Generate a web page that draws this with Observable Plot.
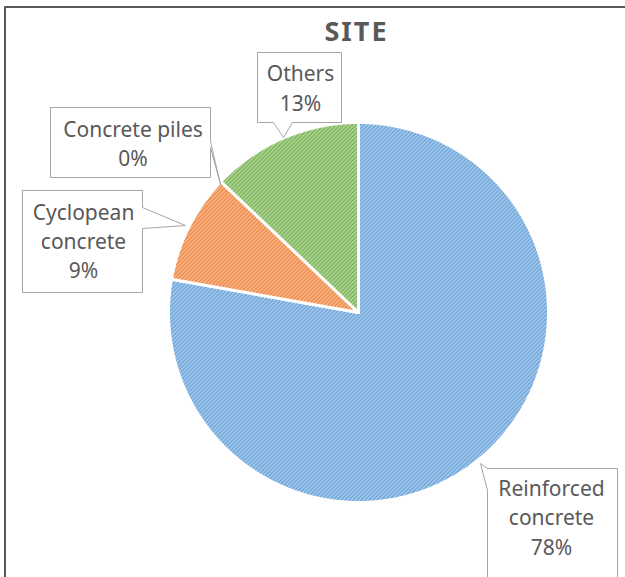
<!DOCTYPE html>
<html><head><meta charset="utf-8">
<script src="https://cdn.jsdelivr.net/npm/d3@7"></script>
<script src="https://cdn.jsdelivr.net/npm/@observablehq/plot@0.6"></script>
<style>body{margin:0;background:#fff} svg{display:block}</style>
</head><body><div id="chart"></div>
<script>
// ---- data ----
const title = "SITE";
const categories = ["Reinforced concrete", "Cyclopean concrete", "Concrete piles", "Others"];
const values = [77.8, 9.3, 0, 12.9];
const labelNames = ["Reinforced\nconcrete", "Cyclopean\nconcrete", "Concrete piles", "Others"];

// ---- styles ----
const hatchDark = ["#6ea6dc", "#f08a46", "#a5a5a5", "#7db658"];
const hatchLight = ["#e1edf8", "#fde6d6", "#ededed", "#e6f1de"];
const textColor = "#595959";
const font = "Noto Sans";

// ---- layout (pixel units) ----
const W = 625, H = 577, CX = 358, CY = 312, R = 190;
const callouts = [
  {box: [487, 468, 617, 600], text: [551, 515.5], side: "left", a: 468, b: 490, tip: [480, 463]},
  {box: [22, 190, 142, 292], text: [83, 239], side: "right", a: 207, b: 228, tip: [185, 225]},
  {box: [50, 107, 210, 177], text: [132.5, 141.5], side: "right", a: 141, b: 147, tip: [220, 184]},
  {box: [257, 52, 341, 122], text: [300, 86], side: "bottom", a: 273, b: 292, tip: [283, 137]}
];

// pie geometry
const arcs = d3.pie().sort(null).value(d => d)(values);
const slices = arcs.map((a, i) => {
  const pts = [[CX, CY]];
  const n = Math.max(2, Math.ceil((a.endAngle - a.startAngle) / (Math.PI / 360)));
  for (let k = 0; k <= n; k++) {
    const t = a.startAngle + (a.endAngle - a.startAngle) * k / n;
    pts.push([CX + R * Math.sin(t), CY - R * Math.cos(t)]);
  }
  pts.push([CX, CY]);
  return {i, pts};
});

function calloutPoly(c) {
  const [x0, y0, x1, y1] = c.box, {a, b, tip} = c;
  let p;
  if (c.side === "top") p = [[x0,y0],[a,y0],tip,[b,y0],[x1,y0],[x1,y1],[x0,y1]];
  else if (c.side === "right") p = [[x0,y0],[x1,y0],[x1,a],tip,[x1,b],[x1,y1],[x0,y1]];
  else if (c.side === "bottom") p = [[x0,y0],[x1,y0],[x1,y1],[b,y1],tip,[a,y1],[x0,y1]];
  else p = [[x0,y0],[x1,y0],[x1,y1],[x0,y1],[x0,b],tip,[x0,a]];
  p.push(p[0]);
  return p;
}

const labels = categories.map((c, i) => ({
  x: callouts[i].text[0], y: callouts[i].text[1],
  text: labelNames[i] + "\n" + Math.round(values[i]) + "%"
}));

const svg = Plot.plot({
  width: W, height: H,
  margin: 0,
  x: {domain: [0, W], range: [0, W], axis: null},
  y: {domain: [0, H], range: [0, H], axis: null},
  marks: [
    Plot.line([[4.5, H], [4.5, 6.5], [W, 6.5]], {stroke: "#595959", strokeWidth: 2}),
    ...slices.filter(s => values[s.i] > 0).map(s =>
      Plot.line(s.pts, {fill: `url(#hatch${s.i})`, stroke: "white", strokeWidth: 3, strokeLinejoin: "round"})
    ),
    ...callouts.map(c => Plot.line(calloutPoly(c), {fill: "white", stroke: "#a6a6a6", strokeWidth: 1})),
    Plot.text(labels, {x: "x", y: "y", text: "text", fill: textColor, fontSize: 21, lineHeight: 1.4,
      fontFamily: font, textAnchor: "middle", lineAnchor: "middle"}),
    Plot.text([title], {x: () => 356, y: () => 32, text: d => d, fill: textColor, fontSize: 27,
      fontWeight: "bold", fontFamily: font, textAnchor: "middle", lineAnchor: "middle", className: "title"})
  ]
});

const defs = d3.select(svg).insert("defs", ":first-child");
hatchDark.forEach((dk, i) => {
  const p = defs.append("pattern").attr("id", `hatch${i}`).attr("width", 4).attr("height", 4)
    .attr("patternUnits", "userSpaceOnUse");
  p.append("rect").attr("width", 4).attr("height", 4).attr("fill", hatchLight[i]);
  p.append("path").attr("d", "M-1,1L1,-1M0,4L4,0M3,5L5,3").attr("stroke", dk)
    .attr("stroke-width", 1.5).attr("shape-rendering", "crispEdges");
});
d3.select(svg).selectAll(".title text").style("letter-spacing", "2px");

document.getElementById("chart").appendChild(svg);
</script>
</body></html>
